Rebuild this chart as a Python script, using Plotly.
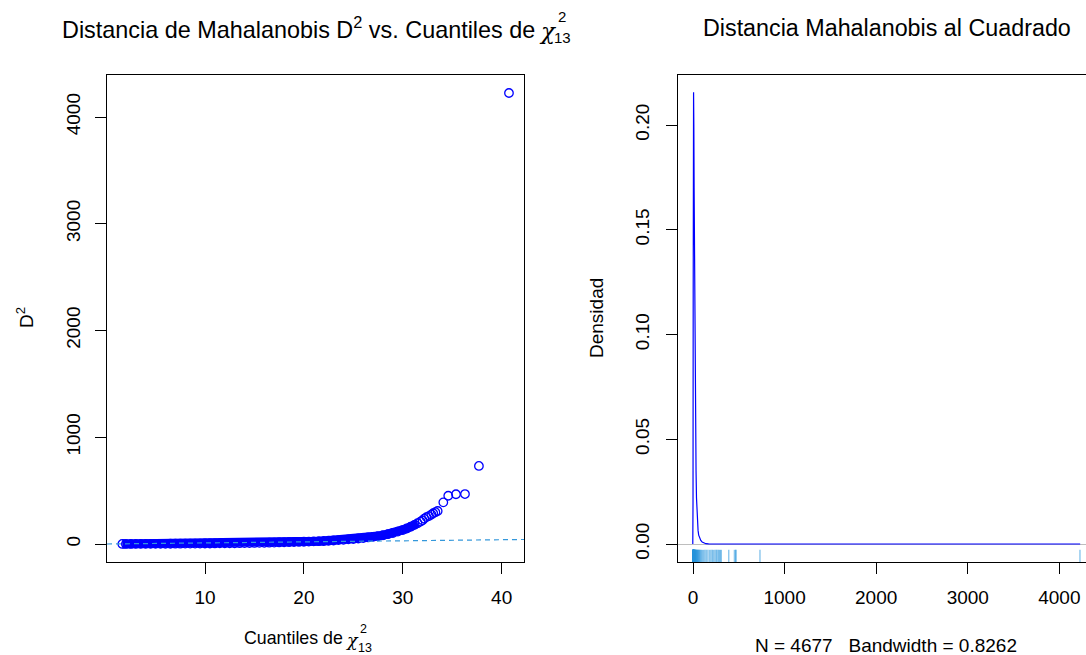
import plotly.graph_objects as go

# ---------------- data ----------------
# Chi-square(13) quantiles (x) and sorted squared Mahalanobis distances (y)
chi2_q = [1.64, 2.0, 2.5, 3.0, 3.5, 4.0, 4.5, 5.0, 5.5, 6.0, 6.5, 7.0, 7.5, 8.0, 8.5, 9.0,
          9.5, 10.0, 10.5, 11.0, 11.5, 12.0, 12.5, 13.0, 13.5, 14.0, 14.5, 15.0, 15.5, 16.0,
          16.5, 17.0, 17.5, 18.0, 18.5, 19.0, 19.5, 20.0, 20.5, 21.0, 21.5, 22.0, 22.5, 23.0,
          23.5, 24.0, 24.5, 25.0, 25.5, 26.0, 26.5, 27.0, 27.5, 28.0, 28.5, 29.0, 29.5, 30.0,
          30.4, 30.8, 31.2, 31.5, 31.8, 32.0, 32.17, 32.4, 32.65, 32.9, 33.08, 33.3, 33.53,
          34.1, 34.6, 35.38, 36.29, 37.7, 40.74]
d2 = [0.4, 0.5, 0.7, 0.9, 1.1, 1.3, 1.5, 1.7, 1.9, 2.1, 2.4, 2.6, 2.9, 3.2, 3.5, 3.8,
      4.1, 4.5, 4.9, 5.3, 5.7, 6.2, 6.7, 7.2, 7.8, 8.4, 9.1, 9.8, 10.6, 11.4,
      12.3, 13.3, 14.4, 15.5, 16.7, 18.0, 19.4, 21.0, 22.6, 24.3, 26.1, 28.0, 30.5, 33.0,
      36.0, 39.5, 43.0, 47.0, 51.5, 56.0, 61.5, 67.0, 74.0, 82.0, 92.0, 103.0, 116.0, 130.0,
      145.0, 162.0, 180.0, 195.0, 210.0, 222.0, 238.0, 252.0, 262.0, 276.0, 288.0, 298.0, 309.0,
      390.0, 452.0, 466.0, 468.0, 731.0, 4225.0]

# reference line D2 = chi2 quantile
ref_intercept = 0.0
ref_slope = 1.0

# kernel density estimate of D2
dens_x = [-2.5, 0, 2, 4, 6, 9, 12, 16, 20, 24, 28, 33, 38, 43, 48, 55, 62, 72, 85, 100,
          120, 140, 170, 250, 4227.5]
dens_y = [0.0, 0.02, 0.12, 0.20, 0.2156, 0.20, 0.17, 0.13, 0.11, 0.09, 0.055, 0.035, 0.022,
          0.015, 0.010, 0.0065, 0.0042, 0.0028, 0.0017, 0.0009, 0.0004, 0.00015, 0.00005,
          0.00001, 0.0]

n_obs = 4677
bandwidth = 0.8262

left_xticks = [10, 20, 30, 40]
left_yticks = [0, 1000, 2000, 3000, 4000]
right_xticks = [0, 1000, 2000, 3000, 4000]
right_yticks = [0.00, 0.05, 0.10, 0.15, 0.20]

# ---------------- layout helpers ----------------
W, H = 1086, 655
FONT = "Liberation Sans, Arial, sans-serif"
GREEK = "DejaVu Serif, serif"
px = lambda v: v / W
py = lambda v: 1 - v / H

XL = (0.09, 42.26)
YL = (-168.6, 4393.4)
XR = (-164.0, 4291.0)
YR = (-0.00859, 0.22387)

fig = go.Figure()

# dense part of the QQ cloud (overlapping circles form a solid band)
dense_n = sum(1 for v in chi2_q if v <= 31.5)
fig.add_trace(go.Scatter(x=chi2_q[:dense_n], y=d2[:dense_n], mode="lines",
                         line=dict(color="#0000FF", width=9), hoverinfo="skip",
                         xaxis="x", yaxis="y", showlegend=False))
fig.add_trace(go.Scatter(x=chi2_q, y=d2, mode="markers",
                         marker=dict(symbol="circle-open", size=8.5, color="#0000FF",
                                     line=dict(width=1.3, color="#0000FF")),
                         xaxis="x", yaxis="y", showlegend=False))
# dashed reference line
fig.add_trace(go.Scatter(x=[XL[0], XL[1]],
                         y=[ref_intercept + ref_slope * XL[0], ref_intercept + ref_slope * XL[1]],
                         mode="lines", line=dict(color="#3498DB", width=1.2, dash="5px,4px"),
                         xaxis="x", yaxis="y", showlegend=False))

# rug
rug_lo = YR[0]
rug_hi = YR[0] + 0.025 * (YR[1] - YR[0])
rx, ry = [], []
for v in d2:
    rx += [v, v, None]
    ry += [rug_lo, rug_hi, None]
fig.add_trace(go.Scatter(x=rx, y=ry, mode="lines",
                         line=dict(color="rgba(40,150,220,0.55)", width=1.4),
                         xaxis="x2", yaxis="y2", showlegend=False))
# density curve
fig.add_trace(go.Scatter(x=dens_x, y=dens_y, mode="lines",
                         line=dict(color="#0000FF", width=1.2),
                         xaxis="x2", yaxis="y2", showlegend=False))

axis_common = dict(showgrid=False, showline=True, linecolor="#000000", linewidth=1,
                   ticks="outside", ticklen=11, tickwidth=1, tickcolor="#000000",
                   tickfont=dict(family=FONT, size=19, color="#000000"))

fig.update_layout(
    width=W, height=H, margin=dict(l=0, r=0, t=0, b=0),
    paper_bgcolor="white", plot_bgcolor="white", showlegend=False,
    xaxis=dict(domain=[px(107), px(524)], range=list(XL), tickvals=left_xticks,
               mirror=True, zeroline=False, ticklabelstandoff=7, **axis_common),
    yaxis=dict(domain=[py(562), py(75)], range=list(YL), tickvals=left_yticks,
               mirror=True, zeroline=False, tickangle=-90, ticklabelstandoff=7, **axis_common),
    xaxis2=dict(domain=[px(678), 1.0], range=list(XR), tickvals=right_xticks, anchor="y2",
                mirror=True, zeroline=False, ticklabelstandoff=7, **axis_common),
    yaxis2=dict(domain=[py(562), py(75)], range=list(YR), tickvals=right_yticks, anchor="x2",
                tickformat=".2f", zeroline=True, zerolinecolor="#BEBEBE", zerolinewidth=1,
                tickangle=-90, ticklabelstandoff=9, **axis_common),
)

def ann(text, x, y, size, xanchor="center", angle=0, family=FONT):
    fig.add_annotation(text=text, x=px(x), y=py(y), xref="paper", yref="paper",
                       xanchor=xanchor, yanchor="middle", showarrow=False, textangle=angle,
                       borderpad=0, font=dict(family=family, size=size, color="#000000"))

# titles
ann("Distancia de Mahalanobis D<sup>2</sup> vs. Cuantiles de", 536, 28, 23.4, "right")
ann("<i>χ</i>", 547.5, 31, 23, family=GREEK)
ann("2", 561.5, 17, 15)
ann("13", 562.5, 37, 15)
ann("Distancia Mahalanobis al Cuadrado", 886.5, 28, 23.3)

# axis labels
ann("Cuantiles de", 344, 638, 17.8, "right")
ann("<i>χ</i>", 352, 640, 17.5, family=GREEK)
ann("2", 363.5, 629, 12.5)
ann("13", 365, 647.5, 12.5)
ann("D<sup>2</sup>", 25, 318, 19, angle=-90)
ann("Densidad", 596, 318, 19, angle=-90)
ann(f"N = {n_obs}\u00a0\u00a0 Bandwidth = {bandwidth}", 886, 645, 19)

fig.write_html("out.html")
